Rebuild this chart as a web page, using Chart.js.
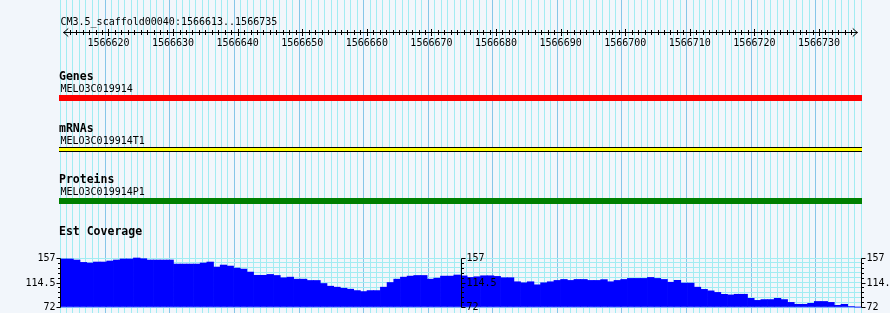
<!DOCTYPE html>
<html><head><meta charset="utf-8">
<script src="https://cdn.jsdelivr.net/npm/chart.js@4"></script>
<style>html,body{margin:0;padding:0;background:#F2F6FB;}canvas{display:block}</style>
</head><body>
<canvas id="c" width="890" height="313"></canvas>
<script>
// ---------------- data ----------------
const regionName = 'CM3.5_scaffold00040';
const regionStart = 1566613;
const regionEnd = 1566735;
const rulerLabels = [1566620, 1566630, 1566640, 1566650, 1566660, 1566670, 1566680, 1566690, 1566700, 1566710, 1566720, 1566730];

const trackTitles = ['Genes', 'mRNAs', 'Proteins'];
const featureNames = ['MELO3C019914', 'MELO3C019914T1', 'MELO3C019914P1'];
const featureStarts = [1566500, 1566500, 1566500];   // features run past both ends of the view
const featureEnds = [1566850, 1566850, 1566850];

const coverageTitle = 'Est Coverage';
const coverageValues = [
  155.3, 155.3, 153.5, 149.4, 148.3, 150.0, 150.0, 151.8, 153.5, 155.3,
  155.3, 157.0, 155.8, 153.5, 153.5, 153.5, 153.5, 146.5, 146.5, 146.5,
  146.5, 148.3, 150.0, 141.3, 144.8, 143.0, 139.5, 137.8, 132.6, 127.0,
  127.0, 128.5, 126.7, 122.7, 123.8, 120.3, 120.3, 118.0, 118.0, 112.8,
  108.1, 106.4, 104.6, 102.9, 100.5, 98.8, 100.5, 100.5, 106.4, 114.5,
  120.3, 123.8, 125.6, 126.7, 126.7, 120.3, 122.1, 125.6, 125.6, 127.5,
  126.0, 123.3, 124.5, 126.2, 126.2, 125.1, 122.8, 122.8, 115.8, 114.0,
  115.8, 110.5, 114.0, 115.8, 118.1, 119.8, 118.1, 119.8, 119.8, 118.1,
  118.1, 119.5, 115.8, 118.1, 119.8, 121.6, 121.6, 121.6, 123.3, 121.6,
  119.8, 115.0, 118.3, 113.5, 113.5, 106.4, 102.6, 100.0, 97.3, 94.0,
  93.0, 94.1, 94.1, 87.0, 83.5, 84.9, 84.9, 87.0, 84.9, 80.0,
  76.7, 76.7, 78.4, 81.6, 81.6, 80.0, 74.9, 76.7, 73.0, 72.0
];
const coverageTickLabels = ['157', '114.5', '72'];
const coverageMin = 72, coverageMax = 157;
const coverageBinLabels = coverageValues.map((v, i) =>
  String(Math.round(regionStart + i * (regionEnd - regionStart + 1) / coverageValues.length)));

// ---------------- styles / layout ----------------
const BG = '#F2F6FB';
const GRID_MINOR = '#A2ECF2';
const GRID_MAJOR = '#86C6E8';
const GRID_BASE = '#80B4FF';
const FEATURE_COLORS = ['#FF0000', '#FFFF00', '#008000'];
const SMALL = '10px "DejaVu Sans Mono", "Liberation Mono", monospace';
const BOLD = 'bold 11.5px "DejaVu Sans Mono", "Liberation Mono", monospace';
const LEFT = 60, RIGHT_PAD = 29;
const COV_TOP = 258, COV_BOTTOM = 307, H = 313;
const pxPerUnit = (COV_BOTTOM - COV_TOP) / (coverageMax - coverageMin);
const yMin = coverageMin - (H - COV_BOTTOM) / pxPerUnit;
const yMax = coverageMax + COV_TOP / pxPerUnit;
const TRACK_ROWS = [
  {title: 80, name: 92, top: 95, h: 6},
  {title: 132, name: 144, top: 147, h: 5},
  {title: 183, name: 195, top: 198, h: 6}
];
const COV_TITLE_Y = 235;

function line(ctx, x1, y1, x2, y2) { ctx.beginPath(); ctx.moveTo(x1, y1); ctx.lineTo(x2, y2); ctx.stroke(); }

const gbrowse = {
  id: 'gbrowse',
  beforeDraw(chart) {
    const ctx = chart.ctx;
    ctx.save(); ctx.fillStyle = BG; ctx.fillRect(0, 0, chart.width, chart.height); ctx.restore();
  },
  afterDatasetsDraw(chart) {
    const ctx = chart.ctx, xs = chart.scales.x, ys = chart.scales.yCov;
    ctx.save();
    ctx.strokeStyle = '#000'; ctx.fillStyle = '#000'; ctx.lineWidth = 1;

    // ----- ruler -----
    const ry = 32.5;
    const xl = xs.getPixelForValue(regionStart), xr = xs.getPixelForValue(regionEnd + 1);
    line(ctx, xl, ry, xr, ry);
    line(ctx, xl + 0.5, ry, xl + 5, ry - 4); line(ctx, xl + 0.5, ry, xl + 5, ry + 4);
    line(ctx, xr - 0.5, ry, xr - 5, ry - 4); line(ctx, xr - 0.5, ry, xr - 5, ry + 4);
    for (let p = regionStart + 1; p <= regionEnd; p++) {
      const px = Math.round(xs.getPixelForValue(p)) + 0.5;
      const len = (p % 10 === 0) ? 3.5 : 2.5;
      line(ctx, px, ry - len, px, ry + len);
    }
    ctx.font = SMALL; ctx.textBaseline = 'alphabetic';
    ctx.textAlign = 'center';
    rulerLabels.forEach(v => ctx.fillText(String(v), xs.getPixelForValue(v), 46));
    ctx.textAlign = 'left';
    ctx.fillText(regionName + ':' + regionStart + '..' + regionEnd, LEFT + 0.5, 25);

    // ----- feature tracks -----
    trackTitles.forEach((t, i) => {
      const row = TRACK_ROWS[i];
      ctx.font = BOLD; ctx.fillStyle = '#000';
      ctx.fillText(t, LEFT - 1, row.title);
      ctx.font = SMALL;
      ctx.fillText(featureNames[i], LEFT + 0.5, row.name);
      const a = Math.max(xs.getPixelForValue(featureStarts[i]), xs.left - 1);
      const b = Math.min(xs.getPixelForValue(featureEnds[i]), xs.right + 1);
      if (i === 1) {
        ctx.fillStyle = '#000'; ctx.fillRect(a, row.top, b - a, row.h);
        ctx.fillStyle = FEATURE_COLORS[i]; ctx.fillRect(a, row.top + 1, b - a, row.h - 2);
      } else {
        ctx.fillStyle = FEATURE_COLORS[i]; ctx.fillRect(a, row.top, b - a, row.h);
      }
    });

    // ----- coverage title & axes -----
    ctx.fillStyle = '#000'; ctx.font = BOLD;
    ctx.fillText(coverageTitle, LEFT - 1, COV_TITLE_Y);
    const step = (coverageMax - coverageMin) / 10;
    const labelVals = coverageTickLabels.map(Number);
    const axes = [
      {x: Math.round(xs.left) + 0.5, dir: -1},
      {x: Math.round((xs.left + xs.right) / 2) + 0.5, dir: 1},
      {x: Math.round(xs.right) + 0.5, dir: 1}
    ];
    ctx.font = SMALL; ctx.textBaseline = 'middle';
    axes.forEach(ax => {
      const yt = Math.round(ys.getPixelForValue(coverageMax)) + 0.5;
      const yb = Math.round(ys.getPixelForValue(coverageMin)) + 0.5;
      line(ctx, ax.x, yt, ax.x, yb);
      for (let k = 0; k <= 10; k++) {
        const v = coverageMin + k * step;
        const py = Math.round(ys.getPixelForValue(v)) + 0.5;
        const major = labelVals.some(l => Math.abs(l - v) < 1e-6);
        line(ctx, ax.x, py, ax.x + ax.dir * (major ? 4 : 2.5), py);
      }
      ctx.textAlign = ax.dir < 0 ? 'right' : 'left';
      coverageTickLabels.forEach((lab, i) => {
        ctx.fillText(lab, ax.x + ax.dir * 5, ys.getPixelForValue(labelVals[i]) + 0.5);
      });
    });
    ctx.restore();
  }
};

new Chart(document.getElementById('c'), {
  type: 'bar',
  data: {
    labels: coverageBinLabels,
    datasets: [{
      data: coverageValues,
      xAxisID: 'xb', yAxisID: 'yCov',
      backgroundColor: '#0000FF', borderWidth: 0,
      barPercentage: 1, categoryPercentage: 1, base: coverageMin
    }]
  },
  options: {
    responsive: false, animation: false, devicePixelRatio: 1, events: [],
    layout: {padding: {left: 0, right: RIGHT_PAD, top: 0, bottom: 0}},
    plugins: {legend: {display: false}, tooltip: {enabled: false}},
    scales: {
      x: {
        type: 'linear', position: 'bottom', min: regionStart, max: regionEnd + 1,
        ticks: {display: false, stepSize: 1},
        border: {display: false},
        grid: {drawTicks: false, lineWidth: 1,
          color: c => (c.tick && Math.round(c.tick.value) % 10 === 0) ? GRID_MAJOR : GRID_MINOR},
        afterFit: s => { s.height = 0; }
      },
      xb: {
        type: 'category', position: 'bottom', offset: true, display: false,
        grid: {display: false}
      },
      yCov: {
        type: 'linear', position: 'left', min: yMin, max: yMax,
        ticks: {display: false},
        border: {display: false},
        grid: {drawTicks: false, lineWidth: 1,
          color: c => (c.tick && Math.abs(c.tick.value - coverageMin) < 1e-6) ? GRID_BASE : GRID_MINOR},
        afterBuildTicks: s => {
          const t = [];
          for (let k = 0; k <= 10; k++) t.push({value: coverageMin + k * (coverageMax - coverageMin) / 10});
          s.ticks = t;
        },
        afterFit: s => { s.width = LEFT; }
      }
    }
  },
  plugins: [gbrowse]
});
</script>
</body></html>
